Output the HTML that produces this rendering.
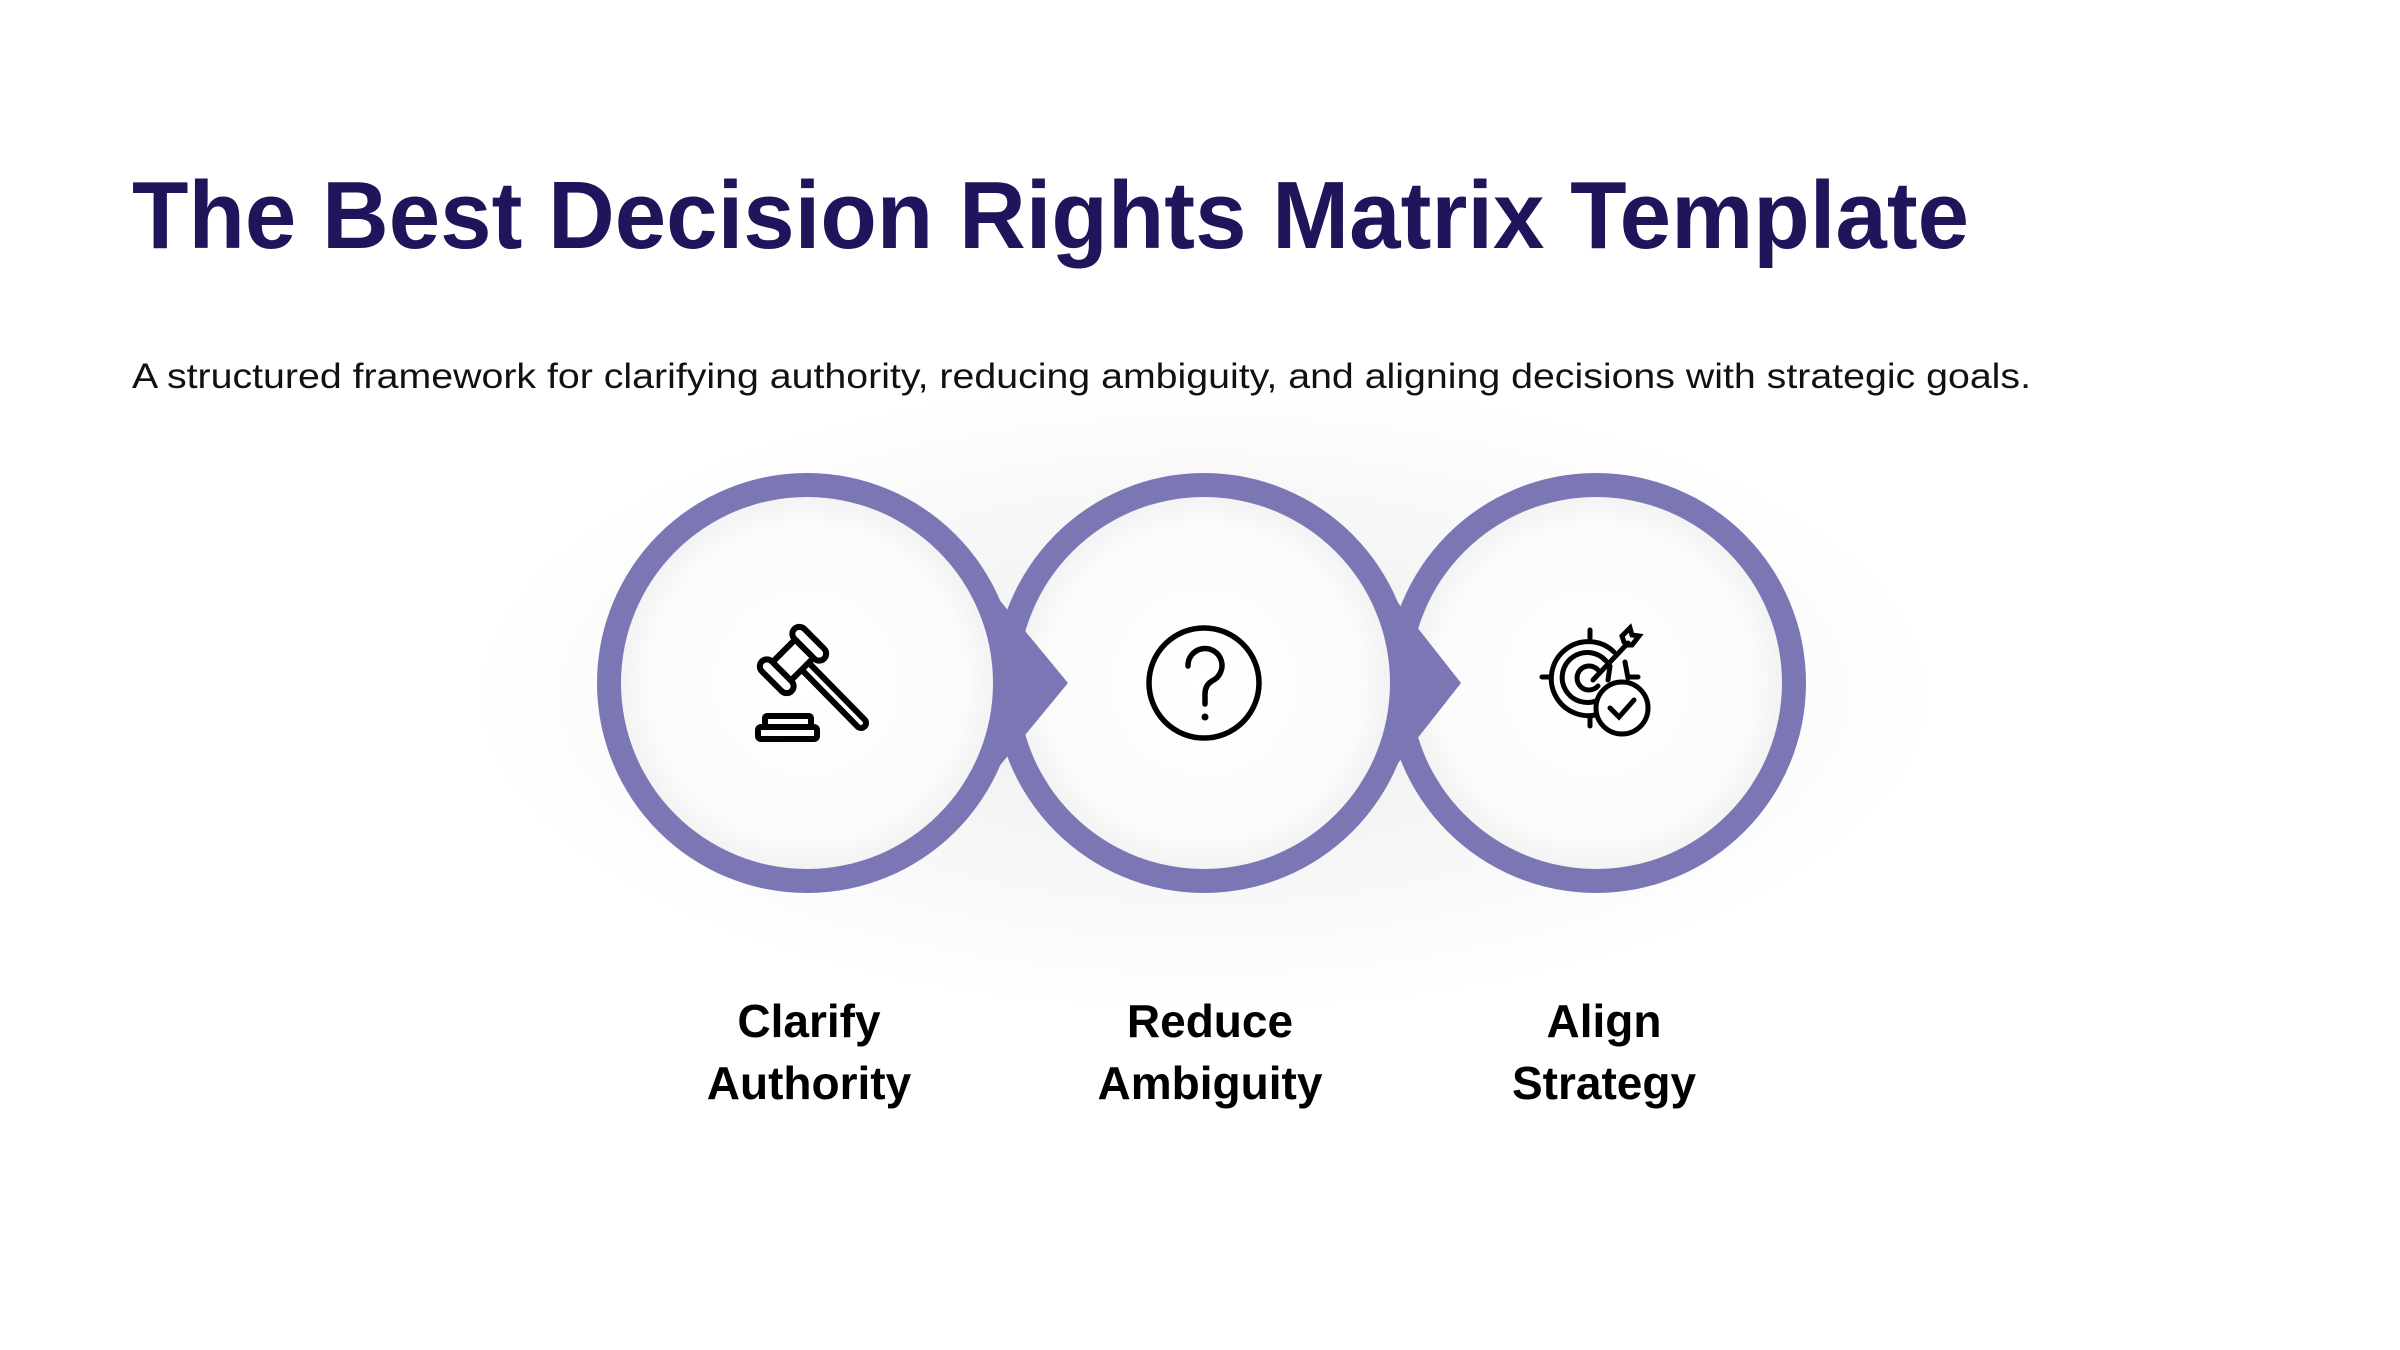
<!DOCTYPE html>
<html><head><meta charset="utf-8"><style>
html,body{margin:0;padding:0;background:#fff;}
svg{display:block;}
</style></head><body>
<svg width="2400" height="1350" viewBox="0 0 2400 1350" xmlns="http://www.w3.org/2000/svg">
<defs>
<radialGradient id="glow" cx="50%" cy="50%" r="50%">
<stop offset="0" stop-color="#000" stop-opacity="0.07"/>
<stop offset="0.6" stop-color="#000" stop-opacity="0.03"/>
<stop offset="1" stop-color="#000" stop-opacity="0"/>
</radialGradient>
<radialGradient id="inner" cx="50%" cy="50%" r="50%">
<stop offset="0" stop-color="#fff"/>
<stop offset="0.85" stop-color="#fbfbfb"/>
<stop offset="1" stop-color="#f3f3f3"/>
</radialGradient>
</defs>
<text x="132" y="248" font-family="Liberation Sans, sans-serif" font-weight="bold" font-size="96" fill="#22145a" textLength="1837" lengthAdjust="spacingAndGlyphs">The Best Decision Rights Matrix Template</text>
<text x="132" y="388" font-family="Liberation Sans, sans-serif" font-size="35" fill="#111" textLength="1899" lengthAdjust="spacingAndGlyphs">A structured framework for clarifying authority, reducing ambiguity, and aligning decisions with strategic goals.</text>

<ellipse cx="1204" cy="695" rx="740" ry="320" fill="url(#glow)"/>

<circle cx="1596" cy="683" r="210" fill="#7b77b5"/>
<circle cx="1596" cy="683" r="186" fill="url(#inner)"/>
<circle cx="1204" cy="683" r="210" fill="#7b77b5"/>
<polygon points="1380,580 1461,683 1380,786" fill="#7b77b5"/>
<circle cx="1204" cy="683" r="186" fill="url(#inner)"/>
<circle cx="807" cy="683" r="210" fill="#7b77b5"/>
<polygon points="983,580 1068,683 983,786" fill="#7b77b5"/>
<circle cx="807" cy="683" r="186" fill="url(#inner)"/>

<!-- gavel -->
<g fill="none" stroke="#000" stroke-width="6" stroke-linejoin="round" stroke-linecap="round">
<path d="M800 668 L858 727 a5 5 0 0 0 7 -7 L807 661" fill="#fff"/>
<g transform="translate(793,660) rotate(45)">
<rect x="-13" y="-16" width="26" height="32" fill="#fff"/>
<rect x="-21" y="-30" width="42" height="14" rx="7" fill="#fff"/>
<rect x="-21" y="16" width="42" height="14" rx="7" fill="#fff"/>
</g>
<rect x="765" y="716" width="46" height="11" rx="2"/>
<rect x="758" y="727" width="59" height="12" rx="3"/>
</g>

<!-- question -->
<g fill="none" stroke="#000" stroke-width="5.5" stroke-linecap="round">
<circle cx="1204" cy="683" r="55"/>
<path d="M1188 666 a17 17 0 1 1 24 15 c-5 3 -7 7 -7 13 v10"/>
</g>
<circle cx="1205" cy="717" r="3.5" fill="#000"/>

<!-- target -->
<g fill="none" stroke="#000" stroke-width="5" stroke-linecap="round">
<path d="M1614 652 A37 37 0 1 0 1602 713"/>
<path d="M1606 661 A25 25 0 1 0 1598 700"/>
<path d="M1598 670 A12 12 0 1 0 1598 686"/>
<line x1="1590" y1="630" x2="1590" y2="638"/>
<line x1="1542" y1="677" x2="1550" y2="677"/>
<line x1="1630" y1="677" x2="1638" y2="677"/>
<line x1="1590" y1="716" x2="1590" y2="726"/>
<line x1="1593" y1="680" x2="1628" y2="643"/>
<path d="M1624 642 L1622 636 L1630 628 L1632 635 L1639 636 L1632 645 L1627 645 Z"/>
<line x1="1610" y1="666" x2="1608" y2="680"/>
<line x1="1625" y1="662" x2="1628" y2="678"/>
<circle cx="1622" cy="708" r="26" fill="#fff"/>
<path d="M1610 708 l9 9 l15 -17"/>
</g>

<g font-family="Liberation Sans, sans-serif" font-weight="bold" font-size="46" fill="#000" text-anchor="middle">
<text x="809" y="1037">Clarify</text>
<text x="809" y="1099">Authority</text>
<text x="1210" y="1037">Reduce</text>
<text x="1210" y="1099">Ambiguity</text>
<text x="1604" y="1037">Align</text>
<text x="1604" y="1099">Strategy</text>
</g>
</svg>
</body></html>
